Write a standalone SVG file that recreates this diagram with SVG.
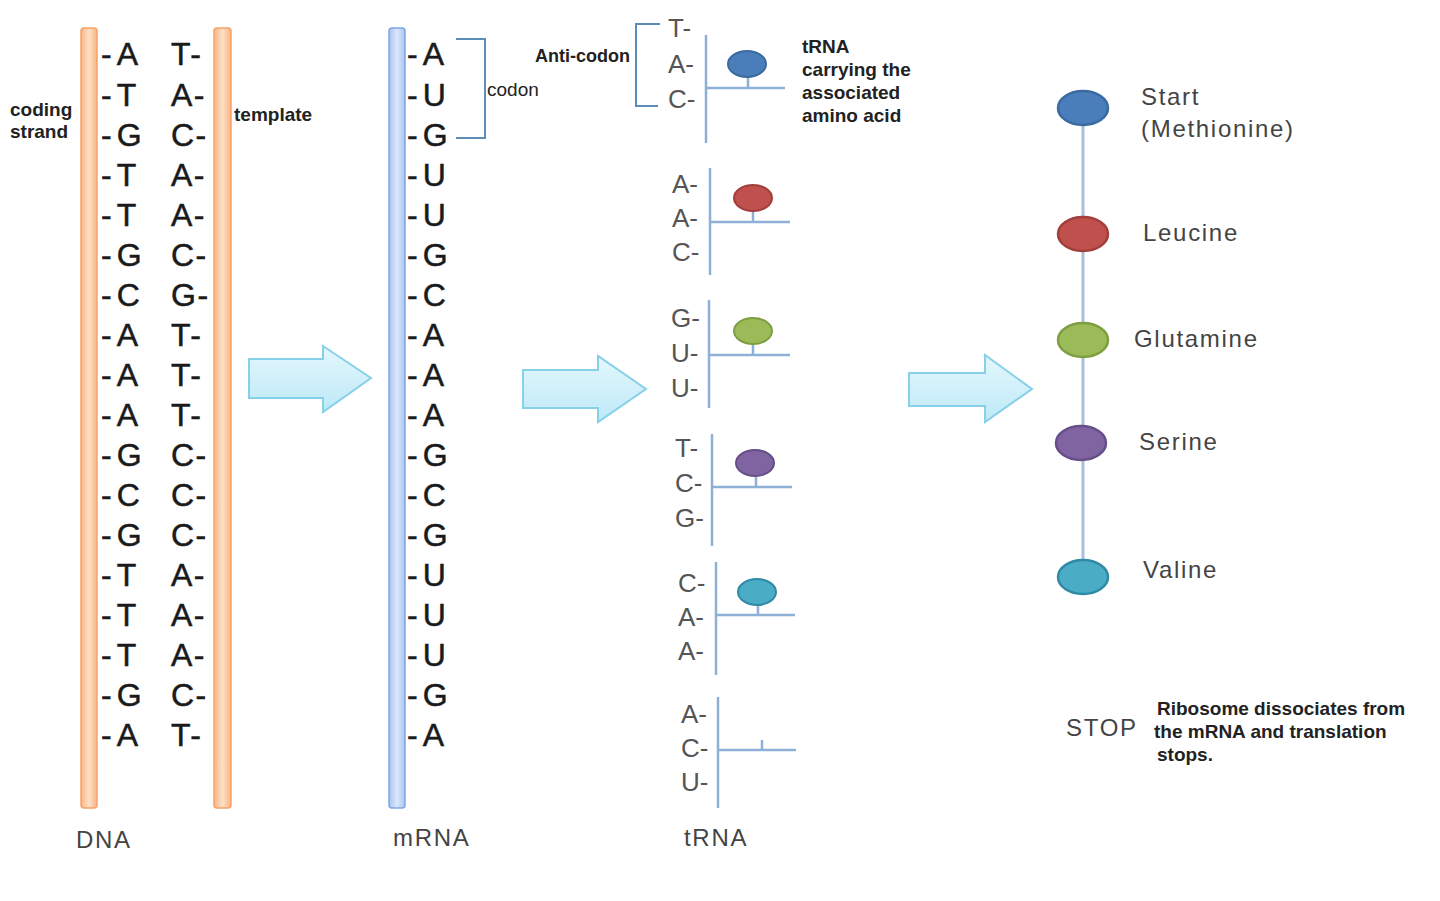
<svg xmlns="http://www.w3.org/2000/svg" width="1440" height="901" viewBox="0 0 1440 901">
<defs>
<linearGradient id="orange" x1="0" x2="1" y1="0" y2="0">
<stop offset="0" stop-color="#F9B482"/><stop offset="0.5" stop-color="#FDE0C6"/><stop offset="1" stop-color="#F9B482"/>
</linearGradient>
<linearGradient id="blue" x1="0" x2="1" y1="0" y2="0">
<stop offset="0" stop-color="#A9C4F0"/><stop offset="0.5" stop-color="#DCE8FB"/><stop offset="1" stop-color="#A9C4F0"/>
</linearGradient>
<linearGradient id="cyan" x1="0" x2="0" y1="0" y2="1">
<stop offset="0" stop-color="#E4F7FD"/><stop offset="1" stop-color="#BDE9F7"/>
</linearGradient>
</defs>
<style>
.dna{font-family:"Liberation Sans",Arial,sans-serif;font-size:32px;fill:#1a1a1a;letter-spacing:5px;stroke:#1a1a1a;stroke-width:0.5px}
.dnar{letter-spacing:1.5px}
.t{font-family:"Liberation Sans",Arial,sans-serif;font-size:26px;fill:#555}
.lbl{font-family:"Liberation Sans",Arial,sans-serif;font-size:19px;fill:#222;font-weight:bold}
.big{font-family:"Liberation Sans",Arial,sans-serif;font-size:24px;fill:#444;letter-spacing:1.7px}
.br{fill:none;stroke:#5B8DB8;stroke-width:2}
.stem{stroke:#8FB0D6;stroke-width:2.5;fill:none}
.arrow{fill:url(#cyan);stroke:#86D0E8;stroke-width:2}
</style>
<rect width="1440" height="901" fill="#fff"/>

<g id="dna">
<rect x="81" y="28" width="16" height="780" rx="3" fill="url(#orange)" stroke="#F4A46A" stroke-width="1.5"/>
<rect x="214" y="28" width="17" height="780" rx="3" fill="url(#orange)" stroke="#F4A46A" stroke-width="1.5"/>
<g class="dna">
<text x="101" y="65">-A</text><text x="101" y="106">-T</text><text x="101" y="146">-G</text><text x="101" y="186">-T</text><text x="101" y="226">-T</text><text x="101" y="266">-G</text><text x="101" y="306">-C</text><text x="101" y="346">-A</text><text x="101" y="386">-A</text><text x="101" y="426">-A</text><text x="101" y="466">-G</text><text x="101" y="506">-C</text><text x="101" y="546">-G</text><text x="101" y="586">-T</text><text x="101" y="626">-T</text><text x="101" y="666">-T</text><text x="101" y="706">-G</text><text x="101" y="746">-A</text>
</g>
<g class="dna dnar">
<text x="171" y="65">T-</text><text x="171" y="106">A-</text><text x="171" y="146">C-</text><text x="171" y="186">A-</text><text x="171" y="226">A-</text><text x="171" y="266">C-</text><text x="171" y="306">G-</text><text x="171" y="346">T-</text><text x="171" y="386">T-</text><text x="171" y="426">T-</text><text x="171" y="466">C-</text><text x="171" y="506">C-</text><text x="171" y="546">C-</text><text x="171" y="586">A-</text><text x="171" y="626">A-</text><text x="171" y="666">A-</text><text x="171" y="706">C-</text><text x="171" y="746">T-</text>
</g>
<text class="lbl" x="10" y="116">coding</text>
<text class="lbl" x="10" y="138">strand</text>
<text class="lbl" x="234" y="121">template</text>
<text class="big" x="76" y="848">DNA</text>
</g>

<g id="mrna">
<rect x="389" y="28" width="16" height="780" rx="3" fill="url(#blue)" stroke="#7EA6E0" stroke-width="1.5"/>
<g class="dna">
<text x="407" y="65">-A</text><text x="407" y="106">-U</text><text x="407" y="146">-G</text><text x="407" y="186">-U</text><text x="407" y="226">-U</text><text x="407" y="266">-G</text><text x="407" y="306">-C</text><text x="407" y="346">-A</text><text x="407" y="386">-A</text><text x="407" y="426">-A</text><text x="407" y="466">-G</text><text x="407" y="506">-C</text><text x="407" y="546">-G</text><text x="407" y="586">-U</text><text x="407" y="626">-U</text><text x="407" y="666">-U</text><text x="407" y="706">-G</text><text x="407" y="746">-A</text>
</g>
<path class="br" d="M456 39 H485 V138 H456"/>
<text class="lbl" x="487" y="96" style="font-weight:normal;font-size:19px">codon</text>
<text class="big" x="393" y="846">mRNA</text>
</g>

<g id="arrows">
<path class="arrow" d="M249 359 H323 V346 L371 378 L323 412 V398 H249 Z"/>
<path class="arrow" d="M523 370 H598 V356 L646 389 L598 422 V408 H523 Z"/>
<path class="arrow" d="M909 373 H985 V355 L1032 389 L985 422 V406 H909 Z"/>
</g>

<g id="trna1">
<path class="br" d="M660 24 H636 V106 H658"/>
<text class="lbl" x="535" y="62" style="font-size:18px">Anti-codon</text>
<line class="stem" x1="706" y1="35" x2="706" y2="143"/>
<line class="stem" x1="706" y1="88" x2="785" y2="88"/>
<line class="stem" x1="748" y1="76" x2="748" y2="88"/>
<ellipse cx="747" cy="64" rx="19" ry="13" fill="#4A7EBB" stroke="#3A6AA0" stroke-width="2"/>
<g class="t"><text x="668" y="37">T-</text><text x="668" y="73">A-</text><text x="668" y="108">C-</text></g>
<g class="lbl"><text x="802" y="53">tRNA</text><text x="802" y="76">carrying the</text><text x="802" y="99">associated</text><text x="802" y="122">amino acid</text></g>
</g>

<g id="trna2">
<line class="stem" x1="710" y1="168" x2="710" y2="275"/>
<line class="stem" x1="710" y1="222" x2="790" y2="222"/>
<line class="stem" x1="753" y1="210" x2="753" y2="222"/>
<ellipse cx="753" cy="198" rx="19" ry="13" fill="#C0504D" stroke="#A23F3C" stroke-width="2"/>
<g class="t"><text x="672" y="193">A-</text><text x="672" y="227">A-</text><text x="672" y="261">C-</text></g>
</g>

<g id="trna3">
<line class="stem" x1="709" y1="300" x2="709" y2="408"/>
<line class="stem" x1="709" y1="355" x2="790" y2="355"/>
<line class="stem" x1="753" y1="343" x2="753" y2="355"/>
<ellipse cx="753" cy="331" rx="19" ry="13" fill="#9BBB59" stroke="#7E9E40" stroke-width="2"/>
<g class="t"><text x="671" y="327">G-</text><text x="671" y="362">U-</text><text x="671" y="397">U-</text></g>
</g>

<g id="trna4">
<line class="stem" x1="712" y1="434" x2="712" y2="546"/>
<line class="stem" x1="712" y1="487" x2="792" y2="487"/>
<line class="stem" x1="756" y1="475" x2="756" y2="487"/>
<ellipse cx="755" cy="463" rx="19" ry="13" fill="#8064A2" stroke="#664E88" stroke-width="2"/>
<g class="t"><text x="675" y="457">T-</text><text x="675" y="492">C-</text><text x="675" y="527">G-</text></g>
</g>

<g id="trna5">
<line class="stem" x1="716" y1="562" x2="716" y2="675"/>
<line class="stem" x1="716" y1="615" x2="795" y2="615"/>
<line class="stem" x1="758" y1="604" x2="758" y2="615"/>
<ellipse cx="757" cy="592" rx="19" ry="13" fill="#4BACC6" stroke="#2F8AA6" stroke-width="2"/>
<g class="t"><text x="678" y="592">C-</text><text x="678" y="626">A-</text><text x="678" y="660">A-</text></g>
</g>

<g id="trna6">
<line class="stem" x1="718" y1="697" x2="718" y2="808"/>
<line class="stem" x1="718" y1="750" x2="796" y2="750"/>
<line class="stem" x1="762" y1="740" x2="762" y2="750"/>
<g class="t"><text x="681" y="723">A-</text><text x="681" y="757">C-</text><text x="681" y="791">U-</text></g>
<text class="big" x="684" y="846">tRNA</text>
</g>

<g id="chain">
<line x1="1083" y1="108" x2="1083" y2="577" stroke="#A9BFDD" stroke-width="3"/>
</g>
<g id="start"><ellipse cx="1083" cy="108" rx="25" ry="17" fill="#4A7EBB" stroke="#3A6AA0" stroke-width="2.5"/>
<text class="big" x="1141" y="105">Start</text><text class="big" x="1141" y="137">(Methionine)</text></g>
<g id="leucine"><ellipse cx="1083" cy="234" rx="25" ry="17" fill="#C0504D" stroke="#A23F3C" stroke-width="2.5"/>
<text class="big" x="1143" y="241">Leucine</text></g>
<g id="glutamine"><ellipse cx="1083" cy="340" rx="25" ry="17" fill="#9BBB59" stroke="#7E9E40" stroke-width="2.5"/>
<text class="big" x="1134" y="347">Glutamine</text></g>
<g id="serine"><ellipse cx="1081" cy="443" rx="25" ry="17" fill="#8064A2" stroke="#664E88" stroke-width="2.5"/>
<text class="big" x="1139" y="450">Serine</text></g>
<g id="valine"><ellipse cx="1083" cy="577" rx="25" ry="17" fill="#4BACC6" stroke="#2F8AA6" stroke-width="2.5"/>
<text class="big" x="1143" y="578">Valine</text></g>

<g id="stop">
<text class="big" x="1066" y="736">STOP</text>
<g class="lbl"><text x="1157" y="715">Ribosome dissociates from</text><text x="1154" y="738">the mRNA and translation</text><text x="1157" y="761">stops.</text></g>
</g>
</svg>
